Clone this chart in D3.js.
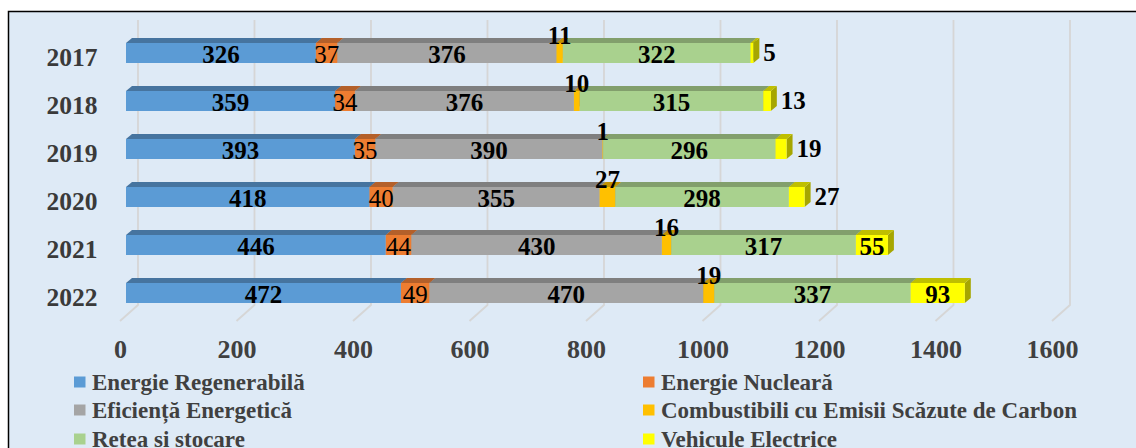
<!DOCTYPE html>
<html><head><meta charset="utf-8">
<script src="https://cdn.jsdelivr.net/npm/d3@7"></script>
<style>body{margin:0;background:#fff}svg{display:block}</style>
</head><body>
<svg id="c" width="1136" height="448"></svg>
<script>
const years = ["2017","2018","2019","2020","2021","2022"];
const seriesNames = ["Energie Regenerabilă","Energie Nucleară","Eficiență Energetică","Combustibili cu Emisii Scăzute de Carbon","Retea si stocare","Vehicule Electrice"];
const renewable  = [326,359,393,418,446,472];
const nuclear    = [37,34,35,40,44,49];
const efficiency = [376,376,390,355,430,470];
const lowCarbon  = [11,10,1,27,16,19];
const grid       = [322,315,296,298,317,337];
const ev         = [5,13,19,27,55,93];
const tickValues = [0,200,400,600,800,1000,1200,1400,1600];

const seriesValues = [renewable,nuclear,efficiency,lowCarbon,grid,ev];
const frontCol = ["#5B9BD5","#ED7D31","#A5A5A5","#FFC000","#A9D18E","#FFFF00"];
const topCol   = ["#46749F","#B4602A","#7F7F7F","#C29200","#829F6C","#BFBF00"];
const sideCol  = ["#3E6890","#A5561F","#737373","#B08600","#769160","#A6A600"];
const labelMode = ["in","in","in","above","in","auto"];
const labelWeight = ["bold","normal","bold","bold","bold","bold"];

const svg = d3.select("#c");
const font = "'Liberation Serif','Times New Roman',serif";

svg.append("rect").attr("x",8.5).attr("y",11.5).attr("width",1140).attr("height",450)
  .attr("fill","#DEEAF6").attr("stroke","#000").attr("stroke-width",1.5);

const xFront = d3.scaleLinear().domain([0,1600]).range([126,1058]);
const xFloor = d3.scaleLinear().domain([0,1600]).range([120,1052]);
const xBack  = d3.scaleLinear().domain([0,1600]).range([138,1070]);
const y = d3.scaleBand().domain(years).range([29,29+6*48]).paddingInner(28/48).paddingOuter(14/48);
const DX = 6, DY = 5;

const g = svg.append("g");
tickValues.forEach(t=>{
  g.append("path")
   .attr("d",`M${xBack(t)},20 L${xBack(t)},305 L${xFloor(t)},321`)
   .attr("fill","none").attr("stroke","#D6D6D6").attr("stroke-width",1.8);
});

const xAxis = d3.axisBottom(xFloor).tickValues(tickValues).tickSize(0).tickPadding(0).tickFormat(d3.format("d"));
const ax = svg.append("g").attr("transform","translate(0,341)").call(xAxis);
ax.select(".domain").remove();
ax.selectAll("text").attr("font-family",font).attr("font-weight","bold").attr("font-size",26)
  .attr("fill","#404040").attr("dy","0.66em");

years.forEach(yr=>{
  svg.append("text").attr("x",72).attr("y",y(yr)+y.bandwidth()+3).attr("text-anchor","middle")
   .attr("font-family",font).attr("font-weight","bold").attr("font-size",25.5).attr("fill","#3A3A3A").text(yr);
});

const bars = svg.append("g");
const labels = [];
years.forEach((yr,i)=>{
  const yb = y(yr), h = y.bandwidth();
  let acc = 0;
  seriesValues.forEach((vals,s)=>{
    const v = vals[i];
    const x0 = xFront(acc), x1 = xFront(acc+v);
    acc += v;
    bars.append("path").attr("d",`M${x1},${yb} L${x1+DX},${yb-DY} L${x1+DX},${yb+h-DY} L${x1},${yb+h}Z`).attr("fill",sideCol[s]);
    bars.append("path").attr("d",`M${x0},${yb} L${x0+DX},${yb-DY} L${x1+DX},${yb-DY} L${x1},${yb}Z`).attr("fill",topCol[s]);
    bars.append("rect").attr("x",x0).attr("y",yb).attr("width",x1-x0).attr("height",h).attr("fill",frontCol[s]);
    let mode = labelMode[s];
    if(mode==="auto") mode = v>=50 ? "in" : "out";
    let lx, ly, anchor="middle";
    if(mode==="in"){ lx=(x0+x1)/2; ly=yb+h; }
    else if(mode==="above"){ lx=(x0+x1)/2; ly=yb+1; }
    else { lx=x1+DX+4; ly=yb+h-2; anchor="start"; }
    labels.push({x:lx,y:ly,anchor,text:String(v),weight:labelWeight[s]});
  });
});
svg.append("g").selectAll("text").data(labels).join("text")
  .attr("x",d=>d.x).attr("y",d=>d.y).attr("text-anchor",d=>d.anchor)
  .attr("font-family",font).attr("font-size",25).attr("font-weight",d=>d.weight)
  .attr("fill","#000").text(d=>d.text);

const legendPos = [
  {s:0,x:74,y:382},{s:2,x:74,y:410},{s:4,x:74,y:439},
  {s:1,x:643,y:382},{s:3,x:643,y:410},{s:5,x:643,y:439}
];
const lg = svg.append("g");
legendPos.forEach(p=>{
  lg.append("rect").attr("x",p.x).attr("y",p.y-5.5).attr("width",11.5).attr("height",11).attr("fill",frontCol[p.s]);
  lg.append("text").attr("x",p.x+18).attr("y",p.y+7.5).attr("font-family",font).attr("font-weight","bold")
    .attr("font-size",23).attr("fill","#404040").text(seriesNames[p.s]);
});
</script>
</body></html>
